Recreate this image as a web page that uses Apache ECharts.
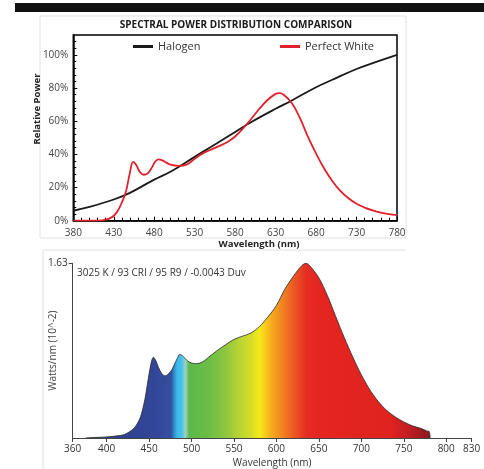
<!DOCTYPE html>
<html><head><meta charset="utf-8">
<script src="https://cdn.jsdelivr.net/npm/echarts@6/dist/echarts.min.js"></script>
<style>html,body{margin:0;padding:0;background:#fff}#c{width:484px;height:469px}</style>
</head><body><div id="c"></div>
<script>
// ---------- Top chart data (relative power, %) ----------
const halogenNm  = [380,400,430,450,480,500,530,550,580,600,630,650,680,700,730,750,780];
const halogenPct = [6,8.3,12.8,16.8,24.8,29.5,38.5,44.5,53.5,59.5,67.5,72.5,80.5,85,91.5,95,100];
const whiteNm  = [380,400,410,415,420,425,430,435,440,445,450,454,458,462,467,472,477,481,485,490,495,500,510,520,530,540,550,560,570,580,590,600,610,620,630,635,640,650,660,670,680,690,700,710,720,730,740,750,760,770,780];
const whitePct = [0,0,0,0.2,0.6,1.4,3,6,11,17.5,29,35.5,33.5,29.5,27.7,28.5,32,35.5,37,36.4,35,33.8,33.1,33.8,37.3,40.6,42.8,45,47.3,50.8,55.8,61.5,67.5,72.8,76.5,77,76,71,62,50.5,40.5,31.5,24,18,13.5,10.2,7.9,6.2,4.9,4,3.4];
const topXTickOffset = 380; // first tick label of top axis
const topTitle = 'SPECTRAL POWER DISTRIBUTION COMPARISON';

// ---------- Bottom chart data (Watts/nm, 10^-2) ----------
const specNm  = [375,380,390,400,410,420,430,435,440,445,450,453,455,458,461,465,469,473,477,480,483,486,489,492,496,500,505,510,515,520,530,540,550,560,570,580,590,600,610,620,630,635,640,650,660,670,680,690,700,710,720,730,740,750,760,770,777,780,781];
const specVal = [0,0.003,0.006,0.01,0.018,0.03,0.075,0.12,0.2,0.36,0.6,0.72,0.754,0.72,0.66,0.6,0.58,0.6,0.64,0.69,0.74,0.78,0.77,0.745,0.715,0.70,0.693,0.70,0.72,0.754,0.815,0.87,0.92,0.95,0.98,1.04,1.13,1.237,1.39,1.51,1.61,1.63,1.60,1.494,1.33,1.13,0.935,0.754,0.59,0.45,0.34,0.256,0.196,0.15,0.114,0.09,0.066,0.06,0];
const bottomXTicks = [360,400,450,500,550,600,650,700,750,800,830];
const bottomYTicks = [1.63];
const bottomNote = '3025 K / 93 CRI / 95 R9 / -0.0043 Duv';

// gradient colour stops along wavelength (style)
const gradNm    = [375,460,476,479,483,488,493,497,520,540,555,570,580,585,595,605,620,635,650,735,760,781];
const gradColor = ['#2a3b86','#33479a','#35509f','#2d86c8','#3cb9e8','#45c2ee','#9dd2c0','#5db84b','#6abd45','#8ec63f','#b5d334','#d4dc2a','#f5e918','#f9d21c','#f6a81e','#f28a20','#ec5a24','#e52d22','#e42521','#e0231f','#b81d22','#8a1a1d'];

const FONT = 'Open Sans';
const chart = echarts.init(document.getElementById('c'), null, {renderer:'canvas'});

const nmMin = specNm[0], nmMax = specNm[specNm.length-1];
const stops = gradNm.map((n,i)=>({offset:(n-nmMin)/(nmMax-nmMin), color:gradColor[i]}));

const topMajor = [0,20,40,60,80,100];

const option = {
  animation:false,
  backgroundColor:'#fff',
  textStyle:{fontFamily:FONT},
  legend:[
    {data:['Halogen'], left:128, top:36, icon:'rect', itemWidth:20, itemHeight:3, itemGap:0,
     textStyle:{fontSize:11, color:'#333', fontFamily:FONT}},
    {data:['Perfect White'], left:275, top:36, icon:'rect', itemWidth:20, itemHeight:3, itemGap:0,
     textStyle:{fontSize:11, color:'#333', fontFamily:FONT}}
  ],
  grid:[
    {left:73.3, top:35, width:323.7, height:185.7, show:true, borderColor:'#000', borderWidth:1.5, containLabel:false},
    {left:72.7, top:263.3, width:399, height:180, containLabel:false}
  ],
  xAxis:[
    {type:'value', gridIndex:0, min:0, max:400, interval:50,
     axisLine:{lineStyle:{color:'#000', width:1.5}},
     axisTick:{show:true, inside:true, length:4, lineStyle:{color:'#000'}},
     minorTick:{show:true, splitNumber:5, length:3, lineStyle:{color:'#000'}},
     axisLabel:{formatter:v=>String(v+topXTickOffset), color:'#444', fontSize:10, margin:7, fontFamily:FONT},
     splitLine:{show:false}},
    {type:'value', gridIndex:1, min:360, max:830,
     axisLine:{lineStyle:{color:'#444', width:1}},
     axisTick:{show:true, customValues:bottomXTicks, length:4, lineStyle:{color:'#444'}},
     axisLabel:{customValues:bottomXTicks, color:'#333', fontSize:10, margin:6, fontFamily:FONT},
     splitLine:{show:false},
     name:'Wavelength (nm)', nameLocation:'middle', nameGap:20, nameMoveOverlap:false,
     nameTextStyle:{fontSize:10, color:'#333', fontFamily:FONT}},
    {type:'value', gridIndex:0, min:0, max:400, interval:50,
     axisLine:{show:false}, axisLabel:{show:false}, splitLine:{show:false},
     axisTick:{show:true, inside:false, length:3, lineStyle:{color:'#000'}}}
  ],
  yAxis:[
    {type:'value', gridIndex:0, min:0, max:112, interval:20,
     axisLine:{show:true, lineStyle:{color:'#000', width:1.5}},
     axisTick:{show:true, inside:true, length:4, customValues:topMajor, lineStyle:{color:'#000'}},
     minorTick:{show:true, splitNumber:5, length:3, lineStyle:{color:'#000'}},
     axisLabel:{customValues:topMajor, formatter:'{value}%', color:'#444', fontSize:10, margin:5, fontFamily:FONT},
     splitLine:{show:false}},
    {type:'value', gridIndex:1, min:0, max:1.63,
     axisLine:{show:true, lineStyle:{color:'#444', width:1}},
     axisTick:{show:true, customValues:bottomYTicks, length:4, lineStyle:{color:'#444'}},
     axisLabel:{customValues:bottomYTicks, color:'#333', fontSize:10, margin:5, fontFamily:FONT},
     splitLine:{show:false},
     name:'Watts/nm (10^-2)', nameLocation:'middle', nameGap:15, nameMoveOverlap:false,
     nameTextStyle:{fontSize:10, color:'#444', fontFamily:FONT}},
    {type:'value', gridIndex:0, min:0, max:112, interval:20,
     axisLine:{show:false}, axisLabel:{show:false}, splitLine:{show:false},
     axisTick:{show:true, inside:false, length:3, customValues:topMajor, lineStyle:{color:'#000'}}}
  ],
  series:[
    {name:'Halogen', type:'line', xAxisIndex:0, yAxisIndex:0, showSymbol:false, smooth:0.4,
     data:halogenNm.map((n,i)=>[n-topXTickOffset, halogenPct[i]]),
     itemStyle:{color:'#1a1a1a'}, lineStyle:{color:'#1a1a1a', width:1.8}},
    {name:'Perfect White', type:'line', xAxisIndex:0, yAxisIndex:0, showSymbol:false, smooth:0.4,
     data:whiteNm.map((n,i)=>[n-topXTickOffset, whitePct[i]]),
     itemStyle:{color:'#e3212b'}, lineStyle:{color:'#e3212b', width:1.8}},
    {name:'Spectrum', type:'line', xAxisIndex:1, yAxisIndex:1, showSymbol:false, smooth:0.3,
     data:specNm.map((n,i)=>[n, specVal[i]]),
     lineStyle:{color:'#2a2a2a', width:0.8},
     areaStyle:{opacity:1, color:{type:'linear', x:0, y:0, x2:1, y2:0, colorStops:stops}}}
  ],
  graphic:[
    {type:'rect', shape:{x:15, y:3, width:469, height:9}, style:{fill:'#111'}, silent:true},
    {type:'rect', shape:{x:40, y:16, width:366, height:222}, style:{fill:'none', stroke:'#e2e2e2', lineWidth:1}, silent:true},
    {type:'line', shape:{x1:43, y1:250, x2:406, y2:250}, style:{stroke:'#e2e2e2', lineWidth:1}, silent:true},
    {type:'line', shape:{x1:43, y1:250, x2:43, y2:469}, style:{stroke:'#e2e2e2', lineWidth:1}, silent:true},
    {type:'text', x:236, y:25, style:{text:topTitle, font:'bold 10px "'+FONT+'"', fill:'#1a1a1a', align:'center', verticalAlign:'middle'}},
    {type:'text', x:37, y:109, rotation:Math.PI/2, style:{text:'Relative Power', font:'bold 9.5px "'+FONT+'"', fill:'#222', align:'center', verticalAlign:'middle'}},
    {type:'text', x:259, y:244, style:{text:'Wavelength (nm)', font:'bold 9.5px "'+FONT+'"', fill:'#222', align:'center', verticalAlign:'middle'}},
    {type:'text', x:77, y:273, style:{text:bottomNote, font:'10px "'+FONT+'"', fill:'#333', align:'left', verticalAlign:'middle'}}
  ]
};
chart.setOption(option);
</script></body></html>
